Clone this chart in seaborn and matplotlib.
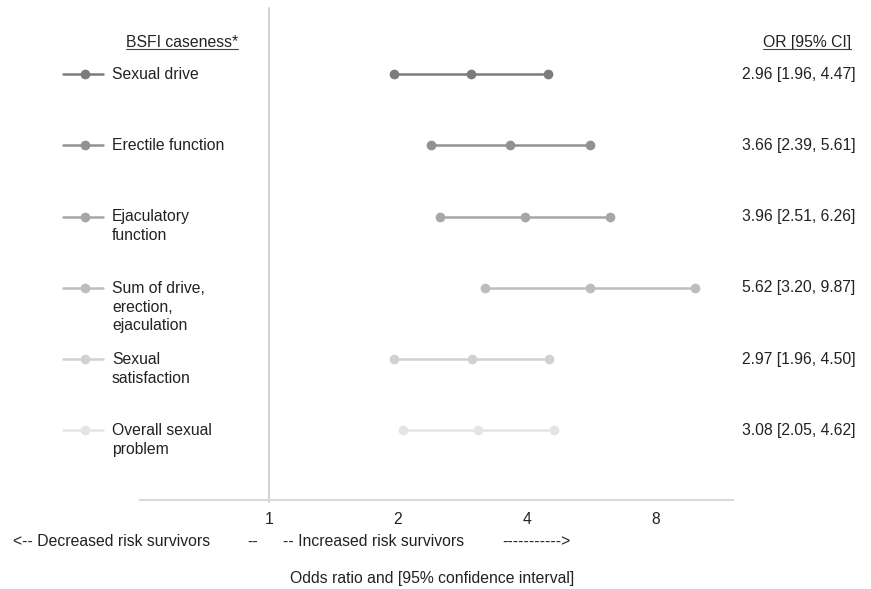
import numpy as np
import pandas as pd
import matplotlib
matplotlib.use("Agg")
import matplotlib.pyplot as plt
import matplotlib.transforms as mtransforms
from matplotlib.lines import Line2D
import seaborn as sns

# Data
outcomes = [
    "Sexual drive",
    "Erectile function",
    "Ejaculatory\nfunction",
    "Sum of drive,\nerection,\nejaculation",
    "Sexual\nsatisfaction",
    "Overall sexual\nproblem",
]
odds_ratio = [2.96, 3.66, 3.96, 5.62, 2.97, 3.08]
ci_low = [1.96, 2.39, 2.51, 3.20, 1.96, 2.05]
ci_high = [4.47, 5.61, 6.26, 9.87, 4.50, 4.62]
row_colors = ["#7c7c7c", "#919191", "#a7a7a7", "#bdbdbd", "#d1d1d1", "#e5e5e5"]
x_ticks = [1, 2, 4, 8]

# Long table for seaborn
rows = []
for i, name in enumerate(outcomes):
    for v in (ci_low[i], odds_ratio[i], ci_high[i]):
        rows.append({"outcome": name, "row": i, "value": v})
df = pd.DataFrame(rows)

sns.set_theme(style="white")
plt.rcParams["font.family"] = ["Liberation Sans", "DejaVu Sans"]

FS = 11.3
TXT = "#222222"

fig = plt.figure(figsize=(8.71, 5.89), dpi=100)
ax = fig.add_axes([140 / 871, 1 - 500 / 589, 593 / 871, 492 / 589])
ax.set_xscale("log", base=2)

sns.lineplot(
    data=df,
    x="value",
    y="row",
    hue="outcome",
    palette=row_colors,
    hue_order=outcomes,
    marker="o",
    markersize=7,
    markeredgewidth=0,
    linewidth=1.8,
    legend=False,
    ax=ax,
)

ax.set_xlim(0.5, 12.1)
ax.set_ylim(5.98, -0.93)
ax.set_xticks(x_ticks)
ax.set_xticklabels([str(t) for t in x_ticks])
ax.minorticks_off()
ax.set_yticks([])
ax.set_xlabel("")
ax.set_ylabel("")
ax.tick_params(axis="x", length=0, pad=9, labelsize=11.3, labelcolor=TXT)

# Borders
for spine in ["top", "right", "left"]:
    ax.spines[spine].set_visible(False)
ax.spines["bottom"].set_color("#d9d9d9")
ax.spines["bottom"].set_linewidth(1.5)
ax.axvline(1, color="#cfcfcf", linewidth=1.3, ymin=-0.004, ymax=1, clip_on=False)

# Left legend and right OR column
trans = mtransforms.blended_transform_factory(fig.transFigure, ax.transData)
for i, name in enumerate(outcomes):
    ax.add_line(Line2D([63 / 871, 103 / 871], [i, i], transform=trans,
                       color=row_colors[i], linewidth=1.8, clip_on=False))
    ax.add_line(Line2D([85 / 871], [i], transform=trans, marker="o",
                       markersize=7, markeredgewidth=0, color=row_colors[i],
                       clip_on=False))
    ax.text(112 / 871, i - 0.10, name, transform=trans, ha="left", va="top",
            fontsize=FS, color=TXT, linespacing=1.32)
    ax.text(742 / 871, i, f"{odds_ratio[i]:.2f} [{ci_low[i]:.2f}, {ci_high[i]:.2f}]",
            transform=trans, ha="left", va="center", fontsize=FS, color=TXT)

h1 = ax.text(126 / 871, -0.44, "BSFI caseness*", transform=trans, ha="left",
             va="center", fontsize=FS, color=TXT)
h2 = ax.text(763 / 871, -0.44, "OR [95% CI]", transform=trans, ha="left",
             va="center", fontsize=FS, color=TXT)

# Bottom notes
yb = 1 - 542 / 589
fig.text(13 / 871, yb, "<-- Decreased risk survivors", ha="left",
         va="center", fontsize=FS, color=TXT)
fig.text(253 / 871, yb, "--", ha="center", va="center",
         fontsize=FS, color=TXT)
fig.text(283 / 871, yb, "-- Increased risk survivors", ha="left",
         va="center", fontsize=FS, color=TXT)
fig.text(502 / 871, yb, "----------->", ha="left", va="center",
         fontsize=FS, color=TXT)
fig.text(432 / 871, 1 - 578 / 589, "Odds ratio and [95% confidence interval]",
         ha="center", va="center", fontsize=FS, color=TXT)

# Underlines for headers
fig.canvas.draw()
inv = fig.transFigure.inverted()
for h in (h1, h2):
    bb = h.get_window_extent()
    (x0, y0), (x1, _) = inv.transform([[bb.x0, bb.y0 + 1.5], [bb.x1, bb.y0 + 1.5]])
    fig.add_artist(Line2D([x0, x1], [y0, y0], transform=fig.transFigure,
                          color="#444444", linewidth=0.8))

fig.savefig("out.png", dpi=100)
